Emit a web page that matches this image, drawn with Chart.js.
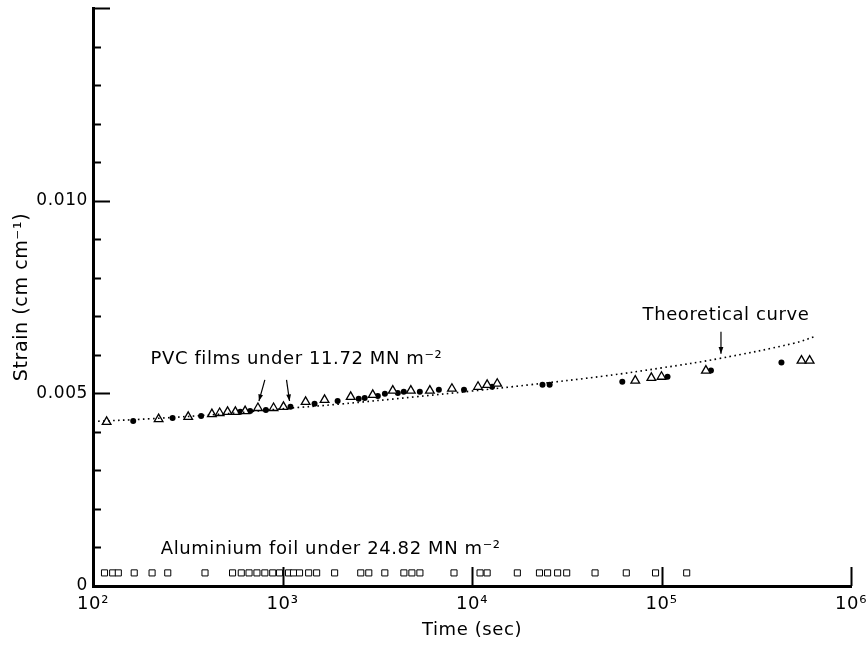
<!DOCTYPE html>
<html>
<head>
<meta charset="utf-8">
<script src="https://cdn.jsdelivr.net/npm/chart.js@4.4.1/dist/chart.umd.min.js"></script>
<style>
  html, body { margin: 0; padding: 0; background: #fff; }
</style>
</head>
<body>
<canvas id="myChart" width="868" height="648"></canvas>
<script>
// axis ticks
const xTickValues = [100, 1000, 10000, 100000, 1000000];
const xTickLabels = ["10²", "10³", "10⁴", "10⁵", "10⁶"];
const yTickValues = [0, 0.005, 0.01];
const yTickLabels = ["0", "0.005", "0.010"];

// theoretical curve
const curveTime = [100, 200, 500, 1000, 2000, 5000, 10000, 20000, 50000, 100000, 200000, 500000, 650000];
const curveStrain = [0.00427, 0.00434, 0.00447, 0.0046, 0.00472, 0.00491, 0.00506, 0.00522, 0.00545, 0.00566, 0.0059, 0.0063, 0.00648];

// PVC films, open triangles
const triTime = [118, 222, 318, 424, 466, 513, 564, 635, 742, 897, 1012, 1324, 1667, 2290, 2994, 3819, 4756, 5993, 7836, 10760, 12020, 13590, 72700, 88400, 100000, 171500, 548000, 605000];
const triStrain = [0.00426, 0.00433, 0.00439, 0.00446, 0.00449, 0.00452, 0.00452, 0.00454, 0.00462, 0.00462, 0.00465, 0.00478, 0.00483, 0.00491, 0.00496, 0.00507, 0.00507, 0.00507, 0.00512, 0.00517, 0.00522, 0.00525, 0.00533, 0.0054, 0.00543, 0.00559, 0.00585, 0.00585];

// PVC films, filled dots
const dotTime = [163, 263, 372, 599, 675, 817, 1102, 1476, 1954, 2524, 2715, 3185, 3470, 4060, 4365, 5305, 6685, 9075, 12770, 23550, 25690, 62100, 107600, 182400, 429500];
const dotStrain = [0.00428, 0.00436, 0.00441, 0.00452, 0.00454, 0.00457, 0.00465, 0.00473, 0.0048, 0.00486, 0.00488, 0.00493, 0.00499, 0.00501, 0.00504, 0.00504, 0.00509, 0.00509, 0.00517, 0.00522, 0.00522, 0.0053, 0.00543, 0.00559, 0.0058];

// aluminium foil, open squares
const alTime = [115, 127, 136, 165, 205, 248, 390, 545, 606, 666, 733, 807, 888, 965, 1076, 1143, 1230, 1374, 1514, 1884, 2588, 2853, 3467, 4370, 4817, 5310, 8035, 11030, 12020, 17350, 22700, 25050, 28300, 31600, 44600, 65200, 93000, 135800];
const alStrain = alTime.map(() => 0.00034);

// labels and arrows, in data units
const notes = [
  { text: "PVC films under 11.72 MN m⁻²", t: 1185, s: 0.00588 },
  { text: "Theoretical curve", t: 219000, s: 0.00702 },
  { text: "Aluminium foil under 24.82 MN m⁻²", t: 1795, s: 0.00095 },
];
const arrows = [
  { t0: 807, s0: 0.00535, t1: 751, s1: 0.0048 },
  { t0: 1050, s0: 0.00535, t1: 1089, s1: 0.0048 },
  { t0: 206000, s0: 0.0066, t1: 206000, s1: 0.00603 },
];

const FONT = "'DejaVu Sans', sans-serif";

const toXY = (ts, ss) => ts.map((t, i) => ({ x: t, y: ss[i] }));

const spacing = {
  id: "spacing",
  beforeDraw(chart) {
    chart.ctx.letterSpacing = "0.6px";
  },
};

const axisTicks = {
  id: "axisTicks",
  afterDraw(chart) {
    const { ctx, chartArea: { left, bottom }, scales: { x, y } } = chart;
    ctx.save();
    ctx.strokeStyle = "#000";
    ctx.lineWidth = 2;
    ctx.beginPath();
    for (let i = 1; i <= 15; i++) {
      const py = Math.round(y.getPixelForValue(i * 0.001)) + 0.5;
      const len = i % 5 === 0 ? 17 : 8;
      ctx.moveTo(left, py);
      ctx.lineTo(left + len, py);
    }
    xTickValues.slice(1).forEach((v) => {
      const px = Math.round(x.getPixelForValue(v)) + 0.5;
      ctx.moveTo(px, bottom);
      ctx.lineTo(px, bottom - 19);
    });
    ctx.stroke();
    ctx.restore();
  },
};

const notesPlugin = {
  id: "notesPlugin",
  afterDatasetsDraw(chart) {
    const { ctx, scales: { x, y } } = chart;
    ctx.save();
    ctx.fillStyle = "#000";
    ctx.font = "18px " + FONT;
    ctx.textAlign = "center";
    ctx.textBaseline = "middle";
    notes.forEach((n) => ctx.fillText(n.text, x.getPixelForValue(n.t), y.getPixelForValue(n.s)));
    ctx.strokeStyle = "#000";
    ctx.lineWidth = 1.2;
    arrows.forEach((a) => {
      const x0 = x.getPixelForValue(a.t0), y0 = y.getPixelForValue(a.s0);
      const x1 = x.getPixelForValue(a.t1), y1 = y.getPixelForValue(a.s1);
      const ang = Math.atan2(y1 - y0, x1 - x0);
      ctx.beginPath();
      ctx.moveTo(x0, y0);
      ctx.lineTo(x1, y1);
      ctx.stroke();
      ctx.beginPath();
      ctx.moveTo(x1, y1);
      ctx.lineTo(x1 - 7 * Math.cos(ang - 0.35), y1 - 7 * Math.sin(ang - 0.35));
      ctx.lineTo(x1 - 7 * Math.cos(ang + 0.35), y1 - 7 * Math.sin(ang + 0.35));
      ctx.closePath();
      ctx.fill();
    });
    ctx.restore();
  },
};

new Chart(document.getElementById("myChart").getContext("2d"), {
  type: "scatter",
  data: {
    datasets: [
      {
        type: "line",
        data: toXY(curveTime, curveStrain),
        borderColor: "#000",
        borderWidth: 1.6,
        borderDash: [1.6, 3.4],
        pointRadius: 0,
        tension: 0.4,
        fill: false,
      },
      {
        data: toXY(triTime, triStrain),
        pointStyle: "triangle",
        pointRadius: 5,
        backgroundColor: "#fff",
        borderColor: "#000",
        borderWidth: 1.3,
      },
      {
        data: toXY(dotTime, dotStrain),
        pointStyle: "circle",
        pointRadius: 3,
        backgroundColor: "#000",
        borderColor: "#000",
        borderWidth: 0,
      },
      {
        data: toXY(alTime, alStrain),
        pointStyle: "rect",
        pointRadius: 4.3,
        backgroundColor: "#fff",
        borderColor: "#000",
        borderWidth: 1,
      },
    ],
  },
  options: {
    responsive: false,
    animation: false,
    layout: { padding: { top: 8, right: 17, left: 0, bottom: 0 } },
    scales: {
      x: {
        type: "logarithmic",
        min: 100,
        max: 1000000,
        afterBuildTicks: (s) => { s.ticks = xTickValues.map((v) => ({ value: v })); },
        afterFit: (s) => { s.height = 62; s.paddingLeft = 0; s.paddingRight = 0; },
        ticks: {
          autoSkip: false,
          maxRotation: 0,
          padding: 8,
          color: "#000",
          font: { family: FONT, size: 18 },
          callback: (v) => xTickLabels[xTickValues.indexOf(v)] ?? "",
        },
        grid: { display: false, drawTicks: false },
        border: { color: "#000", width: 3 },
        title: {
          display: true,
          text: "Time (sec)",
          color: "#000",
          font: { family: FONT, size: 18 },
          padding: { top: 0, bottom: 7 },
        },
      },
      y: {
        min: 0,
        max: 0.015,
        afterBuildTicks: (s) => { s.ticks = yTickValues.map((v) => ({ value: v })); },
        afterFit: (s) => { s.width = 93; s.paddingTop = 0; s.paddingBottom = 0; },
        ticks: {
          padding: 5,
          color: "#000",
          font: { family: FONT, size: 17 },
          callback: (v) => yTickLabels[yTickValues.indexOf(v)] ?? "",
        },
        grid: { display: false, drawTicks: false },
        border: { color: "#000", width: 3 },
        title: {
          display: true,
          text: "Strain (cm cm⁻¹)",
          color: "#000",
          font: { family: FONT, size: 19 },
          padding: { top: 11, bottom: 0 },
        },
      },
    },
    plugins: {
      legend: { display: false },
      tooltip: { enabled: false },
    },
  },
  plugins: [spacing, axisTicks, notesPlugin],
});
</script>
</body>
</html>
